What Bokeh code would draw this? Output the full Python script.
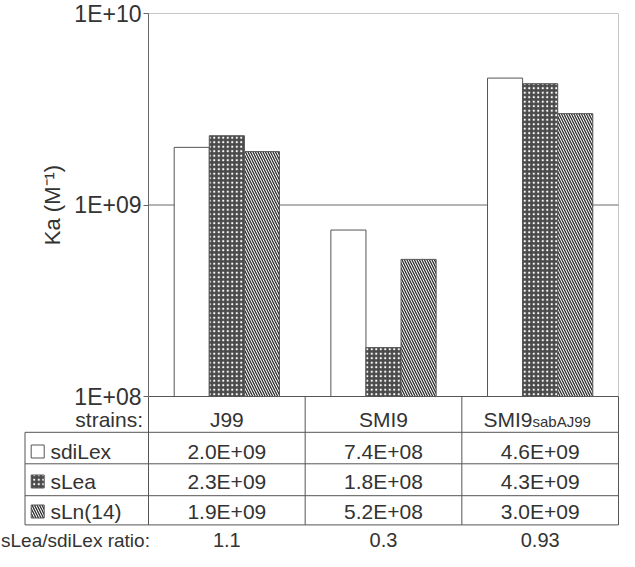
from bokeh.plotting import figure
from bokeh.models import Range1d, FixedTicker, CustomJSTickFormatter, LogAxis, LinearScale
from bokeh.embed import file_html
from bokeh.resources import INLINE
from bokeh.core.properties import value

# ---------------- data ----------------
strains = ["J99", "SMI9", "SMI9"]
strain_subs = ["", "", "sabAJ99"]
series = ["sdiLex", "sLea", "sLn(14)"]
sdiLex = [2.0e9, 7.4e8, 4.6e9]
sLea = [2.3e9, 1.8e8, 4.3e9]
sLn14 = [1.9e9, 5.2e8, 3.0e9]
ratios = ["1.1", "0.3", "0.93"]
ratio_label = "sLea/sdiLex ratio:"
y_ticks = [1e8, 1e9, 1e10]
y_label = "Ka (M\u207b\u00b9)"

# ---------------- style / layout ----------------
FONT = "Liberation Sans"
TXT = "#333333"
LINE = "#555555"
W, H = 619, 551
LEFT = 148            # px of the value axis
FRAME_W = 470         # px width of the three strain columns
PXG = FRAME_W / 3.0
Y_TOP, Y_BOT = 13, 396   # px of 1E+10 and 1E+08
DEC = (Y_BOT - Y_TOP) / 2.0
BW = 0.224

def px2d(px):
    return (px - LEFT) / PXG

styles = [
    dict(fill_color="white"),
    dict(fill_color="#4a4a4a", hatch_pattern="dot", hatch_color="white",
         hatch_scale=4.5, hatch_weight=1.2),
    dict(fill_color="white", hatch_pattern="left_diagonal_line", hatch_color="#2e2e2e",
         hatch_scale=5, hatch_weight=1.3),
]
values_all = [sdiLex, sLea, sLn14]

p = figure(width=W, height=H, y_axis_type="log",
           x_axis_location=None, y_axis_location=None,
           x_range=Range1d(px2d(0), px2d(W)),
           y_range=Range1d(10 ** (8 - (H - Y_BOT) / DEC), 10 ** (10 + Y_TOP / DEC)),
           output_backend="svg", toolbar_location=None,
           min_border_left=0, min_border_right=0, min_border_top=0, min_border_bottom=0)
p.background_fill_color = "white"
p.border_fill_color = "white"
p.outline_line_color = None
p.grid.visible = False
p.extra_y_ranges = {"tbl": Range1d(H - Y_BOT, -Y_BOT)}
p.extra_y_scales = {"tbl": LinearScale()}

# value axis
ya = LogAxis(fixed_location=0, bounds=(y_ticks[0], y_ticks[-1]))
ya.ticker = FixedTicker(ticks=y_ticks, minor_ticks=[])
ya.formatter = CustomJSTickFormatter(
    code="const e = Math.round(Math.log10(tick)); return '1E+' + (e < 10 ? '0' : '') + e;")
ya.axis_line_color = "#666666"
ya.major_tick_line_color = "#666666"
ya.major_tick_out = 5
ya.major_tick_in = 0
ya.minor_tick_out = 0
ya.minor_tick_in = 0
ya.major_label_standoff = 2
ya.major_label_text_font = FONT
ya.major_label_text_font_size = "23px"
ya.major_label_text_color = TXT
ya.axis_label = y_label
ya.axis_label_text_font = FONT
ya.axis_label_text_font_size = "22px"
ya.axis_label_text_font_style = "normal"
ya.axis_label_text_color = TXT
ya.axis_label_standoff = 6
p.add_layout(ya, "left")

# frame lines of the chart area
p.segment(x0=[0], y0=[y_ticks[-1]], x1=[3], y1=[y_ticks[-1]], line_color="#c8c8c8", line_width=1)
p.segment(x0=[3], y0=[y_ticks[0]], x1=[3], y1=[y_ticks[-1]], line_color="#c8c8c8", line_width=1)
p.segment(x0=[0], y0=[y_ticks[1]], x1=[3], y1=[y_ticks[1]], line_color="#6a6a6a", line_width=1.2)

# bars
for i, (vals, st) in enumerate(zip(values_all, styles)):
    xs = [g + 0.5 + (i - 1) * BW for g in range(len(strains))]
    p.vbar(x=xs, top=vals, bottom=y_ticks[0], width=BW,
           line_color=LINE, line_width=1, **st)

# ---------------- table (px below the 1E+08 line) ----------------
row_lines = [35.8, 67.3, 99.2, 128.4]
row_mid = [55.0, 85.0, 115.0]
header_mid = 22.9
ratio_mid = 143.5
tleft = px2d(24.5)
T = "tbl"

p.segment(x0=[0] + [tleft] * 4, y0=[0] + row_lines,
          x1=[3] * 5, y1=[0] + row_lines, line_color=LINE, line_width=1, y_range_name=T)
p.segment(x0=[tleft, 0, 1, 2, 3], y0=[row_lines[0], 0, 0, 0, 0],
          x1=[tleft, 0, 1, 2, 3], y1=[row_lines[-1]] * 5, line_color=LINE, line_width=1,
          y_range_name=T)

f = value(FONT)
common = dict(text_baseline="middle", text_font=f, text_color=TXT, y_range_name=T)
p.text(x=[px2d(142.5)], y=[header_mid], text=["strains:"], text_align="right",
       text_font_size="21px", **common)
p.text(x=[0.5, 1.5], y=[header_mid] * 2, text=strains[:2], text_align="center",
       text_font_size="21px", **common)
p.text(x=[px2d(532)], y=[header_mid], text=[strains[2]], text_align="right",
       text_font_size="21px", **common)
p.text(x=[px2d(532)], y=[header_mid + 2.5], text=[strain_subs[2]], text_align="left",
       text_font_size="15px", **common)

for i, st in enumerate(styles):
    p.rect(x=[px2d(37.2)], y=[row_mid[i]], width=13, height=13,
           width_units="screen", height_units="screen",
           line_color=LINE, line_width=1, y_range_name=T, **st)
p.text(x=[px2d(49.9)] * 3, y=row_mid, text=series, text_align="left",
       text_font_size="21px", **common)

for r, vals in enumerate(values_all):
    p.text(x=[g + 0.5 for g in range(3)], y=[row_mid[r]] * 3,
           text=[f"{v:.1E}" for v in vals], text_align="center",
           text_font_size="21px", **common)

p.text(x=[px2d(0.5)], y=[ratio_mid], text=[ratio_label], text_align="left",
       text_font_size="19px", **common)
p.text(x=[g + 0.5 for g in range(3)], y=[ratio_mid] * 3, text=ratios,
       text_align="center", text_font_size="20px", **common)

open("out.html", "w").write(file_html(p, INLINE))
